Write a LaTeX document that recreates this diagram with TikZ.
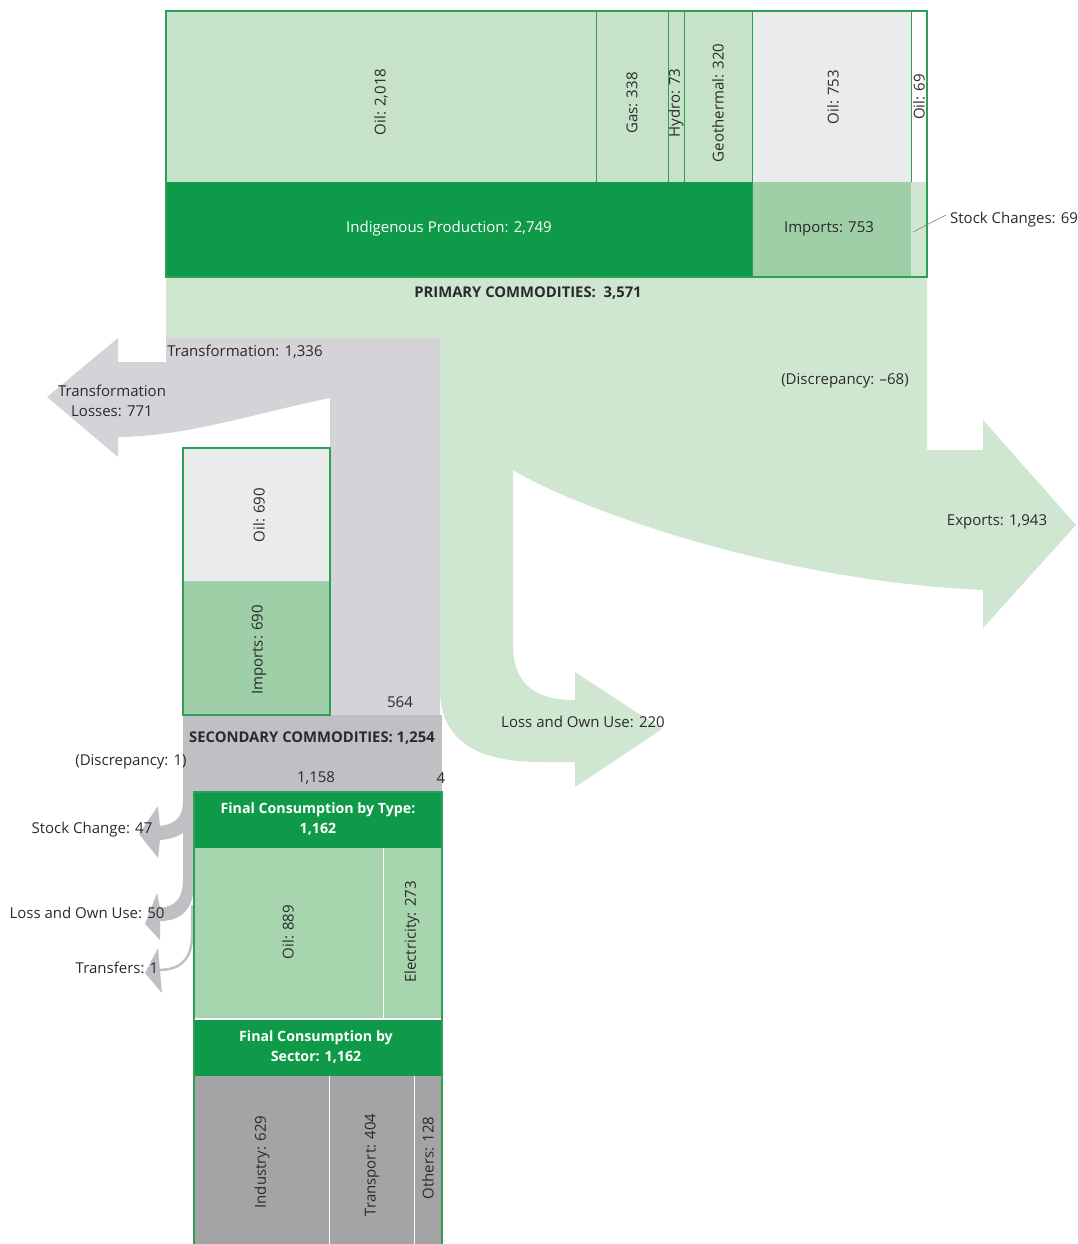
\documentclass[tikz,border=0pt]{standalone}
\usepackage{fontspec}
\setmainfont{Open Sans}
\definecolor{dkgreen}{HTML}{0E9A48}
\definecolor{flowgreen}{HTML}{CFE7D1}
\definecolor{boxgreen}{HTML}{C6E3C9}
\definecolor{midgreen}{HTML}{9ECFA6}
\definecolor{ltgrey}{HTML}{E9ECEA}
\definecolor{trgrey}{HTML}{D4D4D8}
\definecolor{secgrey}{HTML}{C0C0C4}
\definecolor{sectorgrey}{HTML}{A4A4A6}
\definecolor{edgegreen}{HTML}{2E9E58}
\definecolor{fcgreen}{HTML}{A7D5AD}
\definecolor{txt}{HTML}{2A2A2A}
\begin{document}
\begin{tikzpicture}[x=1pt,y=-1pt,
  lbl/.style={font=\fontsize{15}{20}\selectfont, text=txt, inner sep=0, align=center},
  vlbl/.style={lbl, rotate=90},
  hdr/.style={font=\fontsize{14.2}{19.5}\selectfont\bfseries, text=white, inner sep=0, align=center},
  boldlbl/.style={font=\fontsize{14.8}{18}\selectfont\bfseries, text=txt, inner sep=0},
  frame/.style={draw=edgegreen, line width=1.2pt},
  divider/.style={draw=edgegreen, line width=0.6pt},
]
\useasboundingbox (0,0) rectangle (1078,1244);

% primary flow: exports and loss branch
\fill[flowgreen] (166,277) -- (927,277) -- (927,450) -- (983,450) -- (983,420)
  -- (1076,525) -- (983,628) -- (983,590)
  .. controls (760,580) and (560,500) .. (513,470)
  -- (513,645) .. controls (513,688) and (540,700) .. (575,700)
  -- (575,672) -- (662,729) -- (575,787) -- (575,762) -- (540,762)
  .. controls (470,762) and (440,735) .. (440,690)
  -- (440,338) -- (166,338) -- cycle;

% transformation column and losses arrow
\fill[trgrey] (166,338) -- (440,338) -- (440,715) -- (330,715) -- (330,398)
  .. controls (260,412) and (185,437) .. (118,437)
  -- (118,457) -- (47,397) -- (118,338) -- (118,362) -- (166,362) -- cycle;

% top frame: production, imports, stock changes
\fill[boxgreen] (166,11) rectangle (752,182);
\fill[ltgrey] (752,11) rectangle (911,182);
\fill[white] (911,11) rectangle (927,182);
\fill[dkgreen] (166,182) rectangle (752,277);
\fill[midgreen] (752,182) rectangle (911,277);
\fill[flowgreen] (911,182) rectangle (927,277);
\draw[divider] (596,11) -- (596,182) (668,11) -- (668,182) (684,11) -- (684,182)
  (752,11) -- (752,277) (911,11) -- (911,182);
\draw[frame] (166,11) rectangle (927,277);

% secondary commodities band and side strip
\fill[secgrey] (183,715) rectangle (442,792);
\fill[secgrey] (183,790) rectangle (194,895);
% stock change arrow
\fill[secgrey] (183,800) .. controls (183,818) and (175,824) .. (160,826)
  -- (158,806) -- (139,834) -- (158,858) -- (160,840)
  .. controls (185,838) and (194,826) .. (194,805) -- cycle;
% loss and own use arrow
\fill[secgrey] (183,878) .. controls (183,900) and (175,906) .. (160,908)
  -- (157,893) -- (145,924) -- (160,940) -- (160,921)
  .. controls (185,921) and (194,905) .. (194,883) -- cycle;
% transfers arrow
\draw[secgrey, line width=2.5pt] (192,905) -- (192,940) .. controls (190,962) and (178,970) .. (158,970);
\fill[secgrey] (158,948) -- (145,973) -- (162,993) -- cycle;

% secondary imports box
\fill[ltgrey] (183,448) rectangle (330,581);
\fill[midgreen] (183,581) rectangle (330,715);
\draw[frame] (183,448) rectangle (330,715);

% final consumption boxes
\fill[dkgreen] (194,792) rectangle (442,848);
\fill[fcgreen] (194,848) rectangle (442,1018);
\fill[dkgreen] (194,1020) rectangle (442,1076);
\fill[sectorgrey] (194,1076) rectangle (442,1244);
\draw[white, line width=1pt] (383,848) -- (383,1018) (329,1076) -- (329,1244) (414,1076) -- (414,1244);
\draw[white, line width=1.5pt] (194,1019) -- (442,1019);
\draw[frame] (194,1244) -- (194,792) -- (442,792) -- (442,1244);

% stock changes leader
\draw[gray, line width=0.6pt] (913,232) -- (946,215);

% labels
\node[vlbl] (oil1) at (381,102) {Oil: 2,018};
\node[vlbl] (gas) at (632,103) {Gas: 338};
\node[vlbl] (hydro) at (676,103) {Hydro: 73};
\node[vlbl] (geo) at (718,103) {Geothermal: 320};
\node[vlbl] (oil2) at (833,97) {Oil: 753};
\node[vlbl] (oil3) at (919,97) {Oil: 69};
\node[lbl, text=white] (indig) at (449,229) {Indigenous Production: 2,749};
\node[lbl] (imp1) at (829,229) {Imports: 753};
\node[lbl, anchor=west] (stock) at (950,220) {Stock Changes: 69};
\node[boldlbl] (prim) at (528,293) {PRIMARY COMMODITIES:\ \ 3,571};
\node[lbl] (transf) at (245,352) {Transformation: 1,336};
\node[lbl] (tloss) at (112,401) {Transformation\\Losses: 771};
\node[lbl] (disc1) at (845,381) {(Discrepancy: –68)};
\node[lbl] (exp) at (997,522) {Exports: 1,943};
\node[vlbl] (oil4) at (259,515) {Oil: 690};
\node[vlbl] (imp2) at (259,650) {Imports: 690};
\node[lbl] (n564) at (400,702) {564};
\node[lbl] (loss1) at (583,722) {Loss and Own Use: 220};
\node[boldlbl] (sec) at (312,738) {SECONDARY COMMODITIES: 1,254};
\node[lbl] (disc2) at (131,762) {(Discrepancy: 1)};
\node[lbl] (n1158) at (316,778) {1,158};
\node[lbl] (n4) at (441,778) {4};
\node[hdr] (fct) at (318,819) {Final Consumption by Type:\\1,162};
\node[lbl] (stk) at (92,830) {Stock Change: 47};
\node[vlbl] (oil5) at (288,932) {Oil: 889};
\node[vlbl] (elec) at (412,932) {Electricity: 273};
\node[lbl] (loss2) at (87,913) {Loss and Own Use: 50};
\node[lbl] (trf) at (117,968) {Transfers: 1};
\node[hdr] (fcs) at (316,1047) {Final Consumption by\\Sector: 1,162};
\node[vlbl] (ind) at (262,1162) {Industry: 629};
\node[vlbl] (trn) at (372,1165) {Transport: 404};
\node[vlbl] (oth) at (428,1158) {Others: 128};
\end{tikzpicture}
\end{document}
